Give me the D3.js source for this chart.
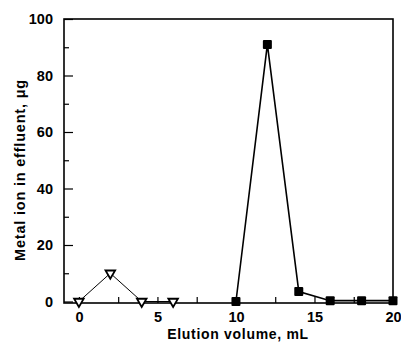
<!DOCTYPE html>
<html>
<head>
<meta charset="utf-8">
<script src="https://cdnjs.cloudflare.com/ajax/libs/d3/7.8.5/d3.min.js"></script>
<style>
  body { margin: 0; background: #fff; }
  text { font-family: "Liberation Sans", Arial, sans-serif; font-weight: bold; fill: #000; }
</style>
</head>
<body>
<div id="chart"></div>
<script>
// open triangles (first metal) and filled squares (second metal)
const triVolume = [0, 2, 4, 6];
const triAmount = [0, 10, 0, 0];
const sqVolume = [10, 12, 14, 16, 18, 20];
const sqAmount = [0, 91, 3.5, 0.3, 0.3, 0.3];

const xTickLabels = [0, 5, 10, 15, 20];
const yTickLabels = [0, 20, 40, 60, 80, 100];

const width = 401, height = 351;
const margin = { top: 19, right: 8, bottom: 48, left: 64 };
const w = width - margin.left - margin.right;
const h = height - margin.top - margin.bottom;

const svg = d3.select('#chart').append('svg')
  .attr('width', width)
  .attr('height', height);

const g = svg.append('g')
  .attr('transform', `translate(${margin.left},${margin.top})`);

const x = d3.scaleLinear().domain([-0.95, 20]).range([0, w]);
const y = d3.scaleLinear().domain([0, 100]).range([h - 1.5, 0]);

// frame
g.append('rect')
  .attr('width', w)
  .attr('height', h)
  .attr('fill', 'none')
  .attr('stroke', '#000')
  .attr('stroke-width', 1.6);

// y axis: major ticks inward, minor between
g.append('g')
  .call(d3.axisLeft(y).tickValues(d3.range(0, 101, 10)).tickSize(-9).tickFormat(''))
  .call(a => a.select('.domain').remove())
  .call(a => a.selectAll('.tick line').attr('stroke-width', 1.2)
    .attr('x2', d => d % 20 === 0 ? 9 : 5));

g.append('g')
  .call(d3.axisLeft(y).tickValues(yTickLabels).tickSize(0).tickPadding(11))
  .call(a => a.select('.domain').remove())
  .call(a => a.selectAll('text').attr('font-size', 14.5));

// x axis: ticks every 2.5, inward
g.append('g')
  .attr('transform', `translate(0,${h})`)
  .call(d3.axisBottom(x).tickValues(d3.range(0, 20.1, 2.5)).tickSize(-6).tickFormat(''))
  .call(a => a.select('.domain').remove())
  .call(a => a.selectAll('.tick line').attr('stroke-width', 1.2));

g.append('g')
  .attr('transform', `translate(0,${h})`)
  .call(d3.axisBottom(x).tickValues(xTickLabels).tickSize(0).tickPadding(9))
  .call(a => a.select('.domain').remove())
  .call(a => a.selectAll('text').attr('font-size', 14.5));

// axis titles
svg.append('text')
  .attr('x', 238)
  .attr('y', 339)
  .attr('text-anchor', 'middle')
  .attr('font-size', 14)
  .attr('letter-spacing', 0.7)
  .text('Elution volume, mL');

svg.append('text')
  .attr('transform', 'translate(25,170) rotate(-90)')
  .attr('text-anchor', 'middle')
  .attr('font-size', 14.5)
  .attr('letter-spacing', 0.8)
  .text('Metal ion in effluent, μg');

const tri = triVolume.map((v, i) => ({ v, a: triAmount[i] }));
const sq = sqVolume.map((v, i) => ({ v, a: sqAmount[i] }));

const line = d3.line().x(d => x(d.v)).y(d => y(d.a));

g.append('path')
  .datum(tri)
  .attr('fill', 'none')
  .attr('stroke', '#000')
  .attr('stroke-width', 1)
  .attr('d', line);

g.append('path')
  .datum(sq)
  .attr('fill', 'none')
  .attr('stroke', '#000')
  .attr('stroke-width', 1.6)
  .attr('d', line);

g.selectAll('.tri')
  .data(tri)
  .join('path')
  .attr('class', 'tri')
  .attr('transform', d => `translate(${x(d.v)},${y(d.a)}) rotate(180)`)
  .attr('d', d3.symbol(d3.symbolTriangle, 40))
  .attr('fill', '#fff')
  .attr('stroke', '#000')
  .attr('stroke-width', 1.8);

g.selectAll('.sq')
  .data(sq)
  .join('rect')
  .attr('class', 'sq')
  .attr('x', d => x(d.v) - 4.5)
  .attr('y', d => y(d.a) - 4.5)
  .attr('width', 9)
  .attr('height', 9)
  .attr('rx', 1)
  .attr('fill', '#000');
</script>
</body>
</html>
